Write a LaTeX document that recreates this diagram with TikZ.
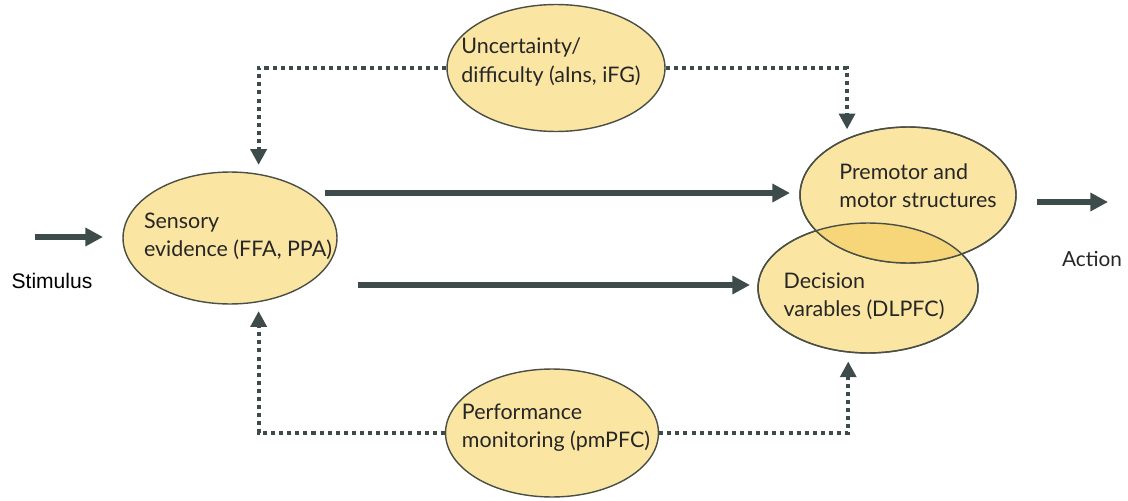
\documentclass[tikz,border=0pt]{standalone}
\usepackage{fontspec}
\setmainfont{Lato}
\newfontfamily\arialfont{Liberation Sans}
\usetikzlibrary{shapes.geometric,arrows.meta}
\definecolor{fillY}{HTML}{FAE5A2}
\definecolor{overY}{HTML}{F6D678}
\definecolor{edgeC}{HTML}{4A4F45}
\definecolor{arrC}{HTML}{3E4B4B}
\begin{document}
\begin{tikzpicture}[x=0.02cm,y=-0.02cm,
  region/.style={ellipse,draw=edgeC,line width=0.8pt,fill=fillY,inner sep=0pt},
  lbl/.style={align=left,font=\fontsize{12.2}{16}\selectfont,text=black!85},
  solidarr/.style={draw=arrC,line width=3pt,-{Triangle[length=10pt,width=10pt]}},
  dotarr/.style={draw=arrC,line width=2.4pt,dash pattern=on 2.3pt off 2.3pt,-{Triangle[length=9pt,width=9pt]}},
]
\useasboundingbox (0,0) rectangle (1128,500);

% ellipses
\node[region,minimum width=4.28cm,minimum height=2.64cm] (sens) at (230,238) {};
\node[region,minimum width=4.36cm,minimum height=2.54cm] (unc) at (556,68) {};
\node[region,minimum width=4.26cm,minimum height=2.56cm] (perf) at (552,433) {};
\node[region,minimum width=4.4cm,minimum height=2.6cm] (dec) at (868,288) {};
\node[region,minimum width=4.32cm,minimum height=2.72cm] (prem) at (908,195) {};
\begin{scope}
  \clip (prem.center) ellipse [x radius=2.16cm,y radius=1.36cm];
  \fill[overY] (dec.center) ellipse [x radius=2.2cm,y radius=1.3cm];
\end{scope}
\draw[edgeC,line width=0.8pt] (dec.center) ellipse [x radius=2.2cm,y radius=1.3cm];
\draw[edgeC,line width=0.8pt] (prem.center) ellipse [x radius=2.16cm,y radius=1.36cm];

% labels
\node[lbl] (sensT) at (238,236) {Sensory\\evidence (FFA, PPA)};
\node[lbl] (uncT) at (551,62) {Uncertainty/\\difficulty (aIns, iFG)};
\node[lbl] (perfT) at (556,428) {Performance\\monitoring (pmPFC)};
\node[lbl] (premT) at (918,186) {Premotor and\\motor structures};
\node[lbl] (decT) at (864,296) {Decision\\varables (DLPFC)};
\node[font=\arialfont\fontsize{12}{14}\selectfont] (stimT) at (52,281) {Stimulus};
\node[font=\fontsize{11.8}{14}\selectfont,text=black!85] (actT) at (1092,259) {Action};

% coordinates for free ends
\coordinate (stimS) at (35,237);
\coordinate (actE) at (1108,202);

% solid arrows
\draw[solidarr] (stimS) -- ([shift={(-127,-1)}]sens.center);
\draw[solidarr] ([shift={(95,-45)}]sens.center) -- ([shift={(-118,-2)}]prem.center);
\draw[solidarr] ([shift={(128,47)}]sens.center) -- ([shift={(-118,-3)}]dec.center);
\draw[solidarr] ([shift={(129,7)}]prem.center) -- (actE);

% dotted arrows
\draw[dotarr,shorten >=5pt] (unc.west) -| (sens.66);
\draw[dotarr,shorten >=5pt] (unc.east) -| (prem.137);
\draw[dotarr,shorten >=5pt] (perf.west) -| (sens.-66);
\draw[dotarr,shorten >=5pt] (perf.east) -| (dec.-107);
\end{tikzpicture}
\end{document}
